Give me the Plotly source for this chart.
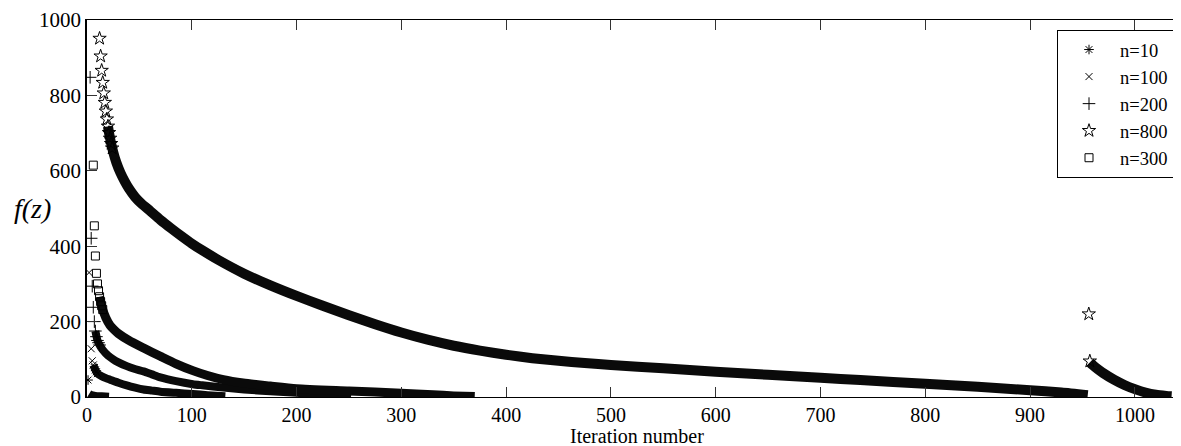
import plotly.graph_objects as go

# ---------------- data ----------------
# n=10
n10_pts_x = [1]
n10_pts_y = [45]
n10_band_x = [2, 4, 8, 14, 21]
n10_band_y = [8, 5, 3, 2, 1]

# n=100
n100_pts_x = [2, 4, 5, 6, 7, 8, 9, 10]
n100_pts_y = [330, 128, 96, 85, 78, 72, 67, 62]
n100_band_x = [6, 8, 10, 14, 18, 22, 30, 38, 46, 54, 62, 70, 85, 101, 115, 132]
n100_band_y = [85, 72, 62, 55, 50, 46, 38, 31, 25, 20, 17, 14, 11, 8, 5, 2]

# n=200
n200_pts_x = [3, 4, 5, 6, 7, 8, 9, 10, 11, 12]
n200_pts_y = [848, 421, 294, 238, 200, 175, 160, 150, 144, 138]
n200_band_x = [8, 10, 12, 15, 20, 25, 30, 38, 45, 54, 62, 70, 85, 101, 110, 130, 150, 175, 200, 225, 240, 252]
n200_band_y = [175, 150, 138, 125, 110, 100, 92, 82, 75, 68, 60, 52, 42, 34, 31, 25, 20, 15, 11, 7, 5, 2]

# n=800
n800_pts_x = [12, 13, 14, 15, 16, 17, 18, 19, 20, 21, 22, 23, 24, 956, 957]
n800_pts_y = [951, 904, 866, 834, 806, 781, 758, 737, 718, 701, 686, 672, 660, 220, 95]
n800_band_x = [20, 22, 25, 28, 32, 36, 40, 46, 52, 60, 70, 80, 90, 100, 110, 125, 150,
               175, 200, 225, 250, 275, 300, 325, 350, 375, 400, 425, 450, 475, 500, 550,
               600, 650, 700, 738, 800, 850, 900, 930, 955,
               None,
               957, 960, 965, 970, 980, 990, 1000, 1010, 1020, 1030, 1035]
n800_band_y = [718, 686, 650, 622, 594, 572, 553, 530, 513, 494, 470, 448, 427, 407, 389, 364, 327,
               296, 268, 242, 217, 193, 171, 152, 136, 123, 112, 103, 96, 90, 85, 76,
               67, 59, 51, 45, 35, 27, 18, 12, 5,
               None,
               92, 84, 73, 63, 46, 32, 21, 12, 6, 3, 2]

# n=300
n300_pts_x = [6, 7, 8, 9, 10, 11, 12, 13, 14, 15]
n300_pts_y = [615, 454, 374, 328, 300, 282, 266, 253, 242, 232]
n300_band_x = [12, 15, 18, 22, 26, 30, 40, 54, 70, 85, 101, 115, 130, 149, 175, 200, 250, 300, 330, 350, 370]
n300_band_y = [266, 232, 210, 190, 178, 168, 150, 130, 108, 88, 70, 57, 46, 37, 29, 22, 16, 10, 6, 3, 1]

x_ticks = [0, 100, 200, 300, 400, 500, 600, 700, 800, 900, 1000]
y_ticks = [0, 200, 400, 600, 800, 1000]

# ---------------- figure ----------------
FONT = "Liberation Serif, Times New Roman, Tinos, Nimbus Roman, DejaVu Serif, serif"
OFF = 8                       # page body margin
W, H = 1181 - OFF, 446 - OFF
ML, MR, MT, MB = 87 - OFF, 0, 20 - OFF, 49
pw = W - ML - MR
ph = H - MT - MB
PX0, PY0 = 87, 397            # page pixel of data origin


def xp(page_x):
    return (page_x - PX0) / pw


def yp(page_y):
    return (PY0 - page_y) / ph


series = [
    ("n=10", n10_pts_x, n10_pts_y, n10_band_x, n10_band_y, "asterisk-open", 8, 8),
    ("n=100", n100_pts_x, n100_pts_y, n100_band_x, n100_band_y, "x-thin-open", 7, 8),
    ("n=200", n200_pts_x, n200_pts_y, n200_band_x, n200_band_y, "cross-thin-open", 9, 8),
    ("n=800", n800_pts_x, n800_pts_y, n800_band_x, n800_band_y, "star-open", 10, 10),
    ("n=300", n300_pts_x, n300_pts_y, n300_band_x, n300_band_y, "square-open", 8, 9),
]

fig = go.Figure()

# thick bands (densely overlapping markers in the original)
for name, px, py, bx, by, sym, msize, bw in series:
    fig.add_trace(go.Scatter(
        x=bx, y=by, mode="lines", showlegend=False, hoverinfo="skip",
        line=dict(color="#0a0a0a", width=bw, shape="spline", smoothing=0.6),
        connectgaps=False,
    ))

# individual markers + legend entries
for name, px, py, bx, by, sym, msize, bw in series:
    fig.add_trace(go.Scatter(
        x=px, y=py, mode="markers", name=name,
        marker=dict(symbol=sym, size=msize, color="black",
                    line=dict(color="black", width=1)),
    ))

# dummy trace for right-side y ticks
fig.add_trace(go.Scatter(x=[None], y=[None], yaxis="y2", showlegend=False, hoverinfo="skip"))

fig.update_layout(
    width=W, height=H,
    margin=dict(l=ML, r=MR, t=MT, b=MB, pad=0),
    paper_bgcolor="white", plot_bgcolor="white",
    font=dict(family=FONT, size=20, color="black"),
    showlegend=True,
    legend=dict(
        x=xp(1057), xanchor="left",
        y=yp(30), yanchor="top",
        bordercolor="black", borderwidth=1, bgcolor="white",
        font=dict(family=FONT, size=18.5, color="black"),
        traceorder="normal", itemwidth=52,
        tracegroupgap=0,
    ),
    xaxis=dict(
        range=[0, 1044], tickvals=x_ticks, ticktext=[str(v) for v in x_ticks],
        ticks="inside", ticklen=10, tickwidth=1, tickcolor="#333",
        showline=True, linecolor="black", linewidth=1, mirror="ticks",
        showgrid=False, zeroline=False,
        tickfont=dict(family=FONT, size=20, color="black"),
    ),
    yaxis=dict(
        range=[0, 1000], tickvals=y_ticks, ticktext=[str(v) for v in y_ticks],
        ticks="inside", ticklen=10, tickwidth=1, tickcolor="#333",
        showline=True, linecolor="black", linewidth=1.5, mirror=False,
        showgrid=False, zeroline=False,
        tickfont=dict(family=FONT, size=21, color="black"),
    ),
    yaxis2=dict(
        overlaying="y", side="right", range=[0, 1000], tickvals=y_ticks,
        ticks="inside", ticklen=7, tickwidth=1, tickcolor="#333",
        showticklabels=False, showline=False, showgrid=False, zeroline=False,
    ),
)

fig.add_annotation(
    text="Iteration number", xref="paper", yref="paper",
    x=xp(637), y=yp(436), xanchor="center", yanchor="middle",
    showarrow=False, font=dict(family=FONT, size=20, color="black"),
)
fig.add_annotation(
    text="<i>f(z)</i>", xref="paper", yref="paper",
    x=xp(32), y=yp(208), xanchor="center", yanchor="middle",
    showarrow=False, font=dict(family=FONT, size=28, color="black"),
)

fig.write_html("out.html")
